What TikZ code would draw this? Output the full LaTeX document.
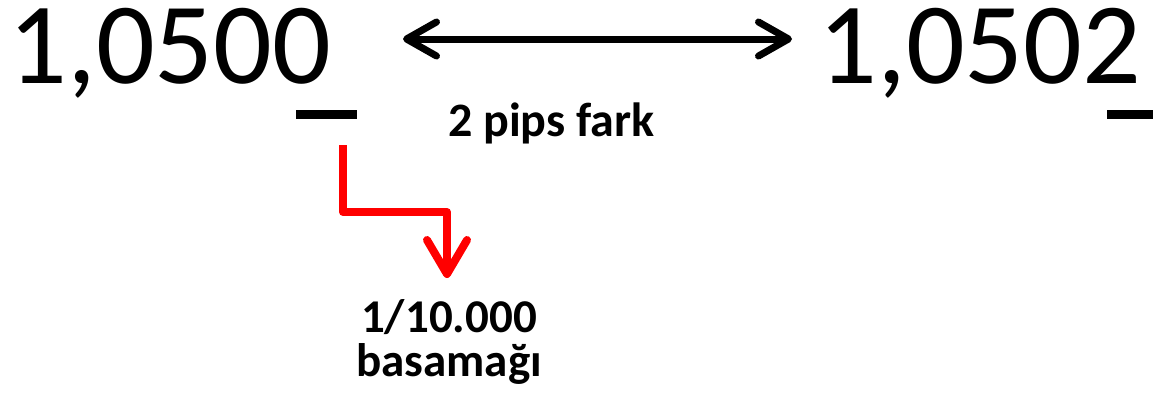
\documentclass[tikz,border=0pt]{standalone}
\usepackage{fontspec}
\setmainfont{Carlito}
\usetikzlibrary{arrows.meta}
\begin{document}
\begin{tikzpicture}[x=1pt,y=-1pt,
  big/.style={font=\fontsize{116}{116}\selectfont, inner sep=0pt, anchor=base west, text height=75pt, text depth=14pt},
  lbl/.style={font=\fontsize{48}{48}\selectfont\bfseries, inner sep=0pt},
  desc/.style={font=\fontsize{47}{47}\selectfont\bfseries, inner sep=0pt, anchor=base},
  bar/.style={fill=black},
  dbl/.style={line width=7pt, {Straight Barb[length=30pt,width=34pt,round]}-{Straight Barb[length=30pt,width=34pt,round]}},
  redarr/.style={draw=red, line width=8pt, line join=round, -{Straight Barb[length=34pt,width=40pt,round]}}
]
\useasboundingbox (0,0) rectangle (1153,400);
\node[big] (a) at (8,83) {1,0500};
\node[big] (b) at (818,83) {1,0502};
\fill[bar] (296,110) rectangle (357,119);
\fill[bar] (1107,110) rectangle (1153,119);
\coordinate (la) at (403,39);
\coordinate (ra) at (792,39);
\draw[dbl] (la) -- (ra);
\node[lbl, anchor=base west] (pips) at (448,136) {2 pips fark};
\coordinate (rs) at (343,145);
\coordinate (rc) at (447,212);
\coordinate (rt) at (447,278);
\node[desc] (d1) at (449,332) {1/10.000};
\node[desc] (d2) at (449,376) {basamağı};
\draw[redarr] (rs) |- (rc) -- (rt);
\end{tikzpicture}
\end{document}
